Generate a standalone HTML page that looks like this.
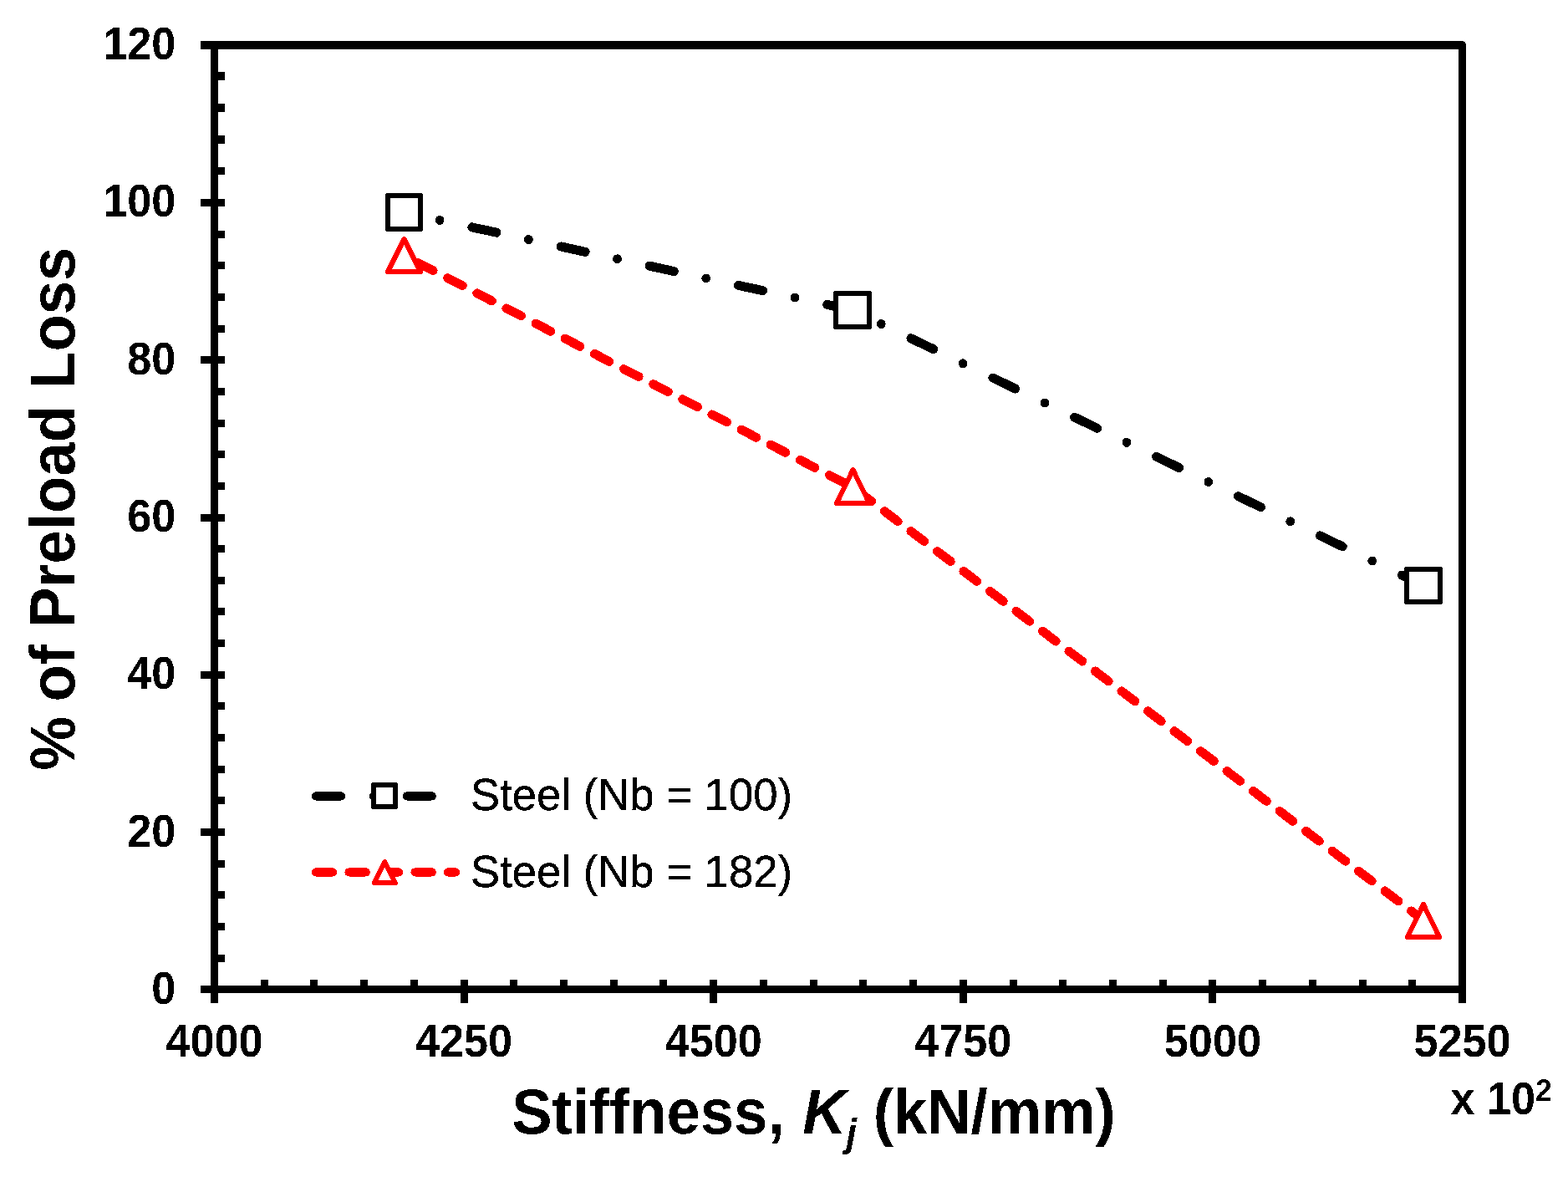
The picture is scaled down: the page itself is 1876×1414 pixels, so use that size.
<!DOCTYPE html>
<html lang="en"><head><meta charset="utf-8"><title>Preload loss vs stiffness</title>
<style>
html,body{margin:0;padding:0;background:#fff;}
body{width:1876px;height:1414px;overflow:hidden;}
svg{display:block;}
text{font-family:"Liberation Sans",Arial,Helvetica,sans-serif;fill:#000;}
.b{font-weight:bold;}
</style></head><body>
<svg width="1876" height="1414" viewBox="0 0 1876 1414" role="img" aria-label="Percent of preload loss versus joint stiffness">
<defs><filter id="bw" x="0" y="0" width="1876" height="1414" filterUnits="userSpaceOnUse" color-interpolation-filters="sRGB"><feComponentTransfer><feFuncR type="discrete" tableValues="0 1"/><feFuncG type="discrete" tableValues="0 1"/><feFuncB type="discrete" tableValues="0 1"/></feComponentTransfer></filter></defs>
<g filter="url(#bw)">
<rect width="1876" height="1414" fill="#fff"/>
<g fill="#000" shape-rendering="crispEdges">
<rect x="240" y="49" width="1514" height="10"/>
<rect x="240" y="1179" width="1514" height="9"/>
<rect x="252" y="49" width="9" height="1151"/>
<rect x="1745" y="49" width="9" height="1151"/>
<rect x="256" y="1142" width="13" height="9"/>
<rect x="256" y="1104" width="13" height="9"/>
<rect x="256" y="1066" width="13" height="9"/>
<rect x="256" y="1029" width="13" height="9"/>
<rect x="240" y="991" width="29" height="9"/>
<rect x="256" y="953" width="13" height="9"/>
<rect x="256" y="916" width="13" height="9"/>
<rect x="256" y="878" width="13" height="9"/>
<rect x="256" y="840" width="13" height="9"/>
<rect x="240" y="803" width="29" height="9"/>
<rect x="256" y="765" width="13" height="9"/>
<rect x="256" y="727" width="13" height="9"/>
<rect x="256" y="690" width="13" height="9"/>
<rect x="256" y="652" width="13" height="9"/>
<rect x="240" y="615" width="29" height="9"/>
<rect x="256" y="577" width="13" height="9"/>
<rect x="256" y="539" width="13" height="9"/>
<rect x="256" y="502" width="13" height="9"/>
<rect x="256" y="464" width="13" height="9"/>
<rect x="240" y="426" width="29" height="9"/>
<rect x="256" y="389" width="13" height="9"/>
<rect x="256" y="351" width="13" height="9"/>
<rect x="256" y="313" width="13" height="9"/>
<rect x="256" y="276" width="13" height="9"/>
<rect x="240" y="238" width="29" height="9"/>
<rect x="256" y="200" width="13" height="9"/>
<rect x="256" y="162" width="13" height="10"/>
<rect x="256" y="124" width="13" height="10"/>
<rect x="256" y="86" width="13" height="10"/>
<rect x="312" y="1172" width="9" height="11"/>
<rect x="371" y="1172" width="9" height="11"/>
<rect x="431" y="1172" width="9" height="11"/>
<rect x="491" y="1172" width="9" height="11"/>
<rect x="551" y="1172" width="9" height="28"/>
<rect x="610" y="1172" width="9" height="11"/>
<rect x="670" y="1172" width="9" height="11"/>
<rect x="730" y="1172" width="9" height="11"/>
<rect x="789" y="1172" width="9" height="11"/>
<rect x="849" y="1172" width="9" height="28"/>
<rect x="909" y="1172" width="9" height="11"/>
<rect x="969" y="1172" width="9" height="11"/>
<rect x="1028" y="1172" width="9" height="11"/>
<rect x="1088" y="1172" width="9" height="11"/>
<rect x="1148" y="1172" width="9" height="28"/>
<rect x="1208" y="1172" width="9" height="11"/>
<rect x="1267" y="1172" width="9" height="11"/>
<rect x="1327" y="1172" width="9" height="11"/>
<rect x="1387" y="1172" width="9" height="11"/>
<rect x="1446" y="1172" width="9" height="28"/>
<rect x="1506" y="1172" width="9" height="11"/>
<rect x="1566" y="1172" width="9" height="11"/>
<rect x="1626" y="1172" width="9" height="11"/>
<rect x="1685" y="1172" width="9" height="11"/>
</g>
<path d="M1751 49h3v3h-1v-2h-2z" fill="#fff" shape-rendering="crispEdges"/>
<text class="b" font-size="53" text-anchor="end" transform="translate(210.30 1200.75) scale(0.985 1.04)">0</text>
<text class="b" font-size="53" text-anchor="end" transform="translate(210.30 1012.75) scale(0.985 1.04)">20</text>
<text class="b" font-size="53" text-anchor="end" transform="translate(210.30 823.75) scale(0.985 1.04)">40</text>
<text class="b" font-size="53" text-anchor="end" transform="translate(210.30 635.75) scale(0.985 1.04)">60</text>
<text class="b" font-size="53" text-anchor="end" transform="translate(210.30 447.75) scale(0.985 1.04)">80</text>
<text class="b" font-size="53" text-anchor="end" transform="translate(210.30 258.75) scale(0.985 1.04)">100</text>
<text class="b" font-size="53" text-anchor="end" transform="translate(210.30 70.75) scale(0.985 1.04)">120</text>
<text class="b" font-size="53" text-anchor="middle" transform="translate(256.50 1263.75) scale(0.985 1.04)">4000</text>
<text class="b" font-size="53" text-anchor="middle" transform="translate(555.10 1263.75) scale(0.985 1.04)">4250</text>
<text class="b" font-size="53" text-anchor="middle" transform="translate(853.70 1263.75) scale(0.985 1.04)">4500</text>
<text class="b" font-size="53" text-anchor="middle" transform="translate(1152.30 1263.75) scale(0.985 1.04)">4750</text>
<text class="b" font-size="53" text-anchor="middle" transform="translate(1450.90 1263.75) scale(0.985 1.04)">5000</text>
<text class="b" font-size="53" text-anchor="middle" transform="translate(1749.50 1263.75) scale(0.985 1.04)">5250</text>
<polyline transform="translate(0.4 -0.1)" points="483.5,254.0 1020.0,371.0 1703.0,700.5" fill="none" stroke="#000" stroke-width="10.4" stroke-linecap="round" stroke-linejoin="round" stroke-dasharray="30 39.2 0 39.5" stroke-dashoffset="26"/>
<polyline transform="translate(0.4 0.5)" points="483.5,254.0 1020.0,371.0 1703.0,700.5" fill="none" stroke="#000" stroke-width="10.4" stroke-linecap="round" stroke-linejoin="round" stroke-dasharray="30 39.2 0 39.5" stroke-dashoffset="26"/>
<polyline transform="translate(0.4 0.3)" points="483.5,305.5 1020.0,582.4 1703.0,1100.7" fill="none" stroke="#f00" stroke-width="10.4" stroke-linecap="round" stroke-linejoin="round" stroke-dasharray="20 19.55" stroke-dashoffset="21"/>
<polyline transform="translate(0.4 0.6)" points="483.5,305.5 1020.0,582.4 1703.0,1100.7" fill="none" stroke="#f00" stroke-width="10.4" stroke-linecap="round" stroke-linejoin="round" stroke-dasharray="20 19.55" stroke-dashoffset="21"/>
<rect x="464" y="234" width="39" height="40" fill="#fff" stroke="#000" stroke-width="6" stroke-linejoin="round"/>
<rect x="1000" y="351" width="40" height="40" fill="#fff" stroke="#000" stroke-width="6" stroke-linejoin="round"/>
<rect x="1683" y="681" width="40" height="39" fill="#fff" stroke="#000" stroke-width="6" stroke-linejoin="round"/>
<polygon points="483.5,286 503,325 464,325" fill="#fff" stroke="#f00" stroke-width="6" stroke-linejoin="round"/>
<polygon points="1020.5,562 1040,602 1001,602" fill="#fff" stroke="#f00" stroke-width="6" stroke-linejoin="round"/>
<polygon points="1703,1082 1722,1121 1684,1121" fill="#fff" stroke="#f00" stroke-width="6" stroke-linejoin="round"/>
<line x1="378" y1="952.4" x2="545" y2="952.4" stroke="#000" stroke-width="10.4" stroke-linecap="round" stroke-dasharray="30 39.2 0 39.5"/>
<rect x="447.0" y="939.0" width="26" height="26" fill="#fff" stroke="#000" stroke-width="6" stroke-linejoin="round"/>
<line x1="378" y1="1043.4" x2="545" y2="1043.4" stroke="#f00" stroke-width="10.4" stroke-linecap="round" stroke-dasharray="20 19.55"/>
<polygon points="460.4,1031.0 472.9,1056.0 447.9,1056.0" fill="#fff" stroke="#f00" stroke-width="6" stroke-linejoin="round"/>
<g stroke="#000" stroke-width="0.3" stroke-linejoin="round">
<text font-size="53" transform="translate(563.00 968.50) scale(0.994 1.015)">Steel (Nb = 100)</text>
<text font-size="53" transform="translate(563.00 1060.50) scale(0.994 1.015)">Steel (Nb = 182)</text>
</g>
<text class="b" font-size="74" transform="translate(612.20 1355.60) scale(0.98 1.015)">Stiffness, <tspan font-style="italic" dx="1.5">K</tspan><tspan font-style="italic" font-size="45.88" dy="15">j</tspan><tspan dy="-15" dx="-0.5"> (kN/mm)</tspan></text>
<text class="b" font-size="74" text-anchor="middle" transform="translate(89.00 611.30) rotate(-90) scale(0.98 1.015)"><tspan dx="2.8">%</tspan><tspan dx="-2.8"> of Preload Loss</tspan></text>
<text class="b" font-size="53" transform="translate(1735.50 1332.75) scale(0.985 1.04)">x 10<tspan font-size="36.04" dy="-15.2">2</tspan></text>
</g>
</svg>
</body></html>
